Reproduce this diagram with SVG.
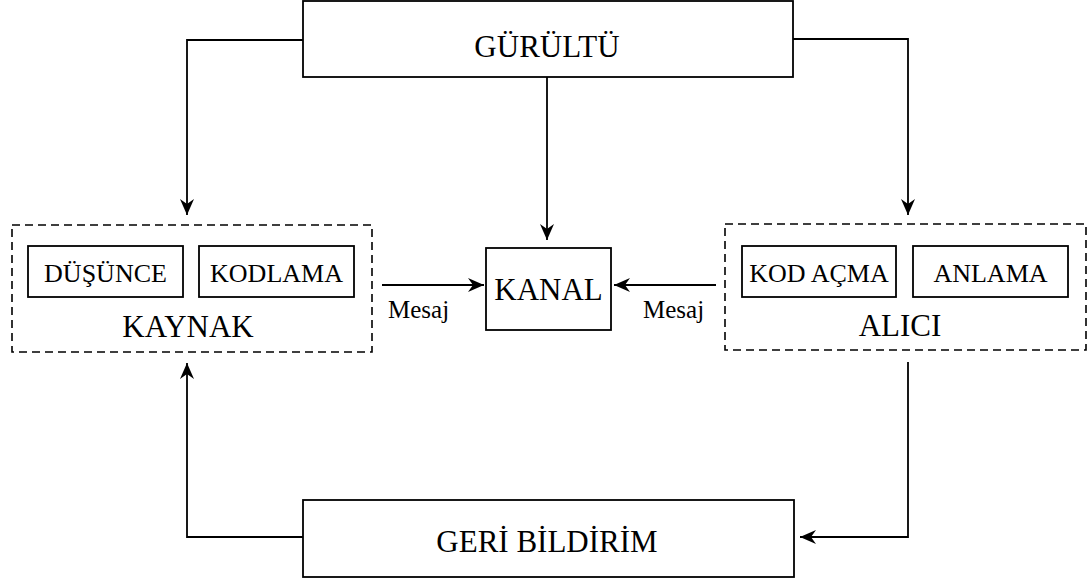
<svg xmlns="http://www.w3.org/2000/svg" width="1088" height="580" viewBox="0 0 1088 580">
<style>
  .box { fill: #fff; stroke: #000; stroke-width: 1.8; }
  .dash { fill: none; stroke: #000; stroke-width: 1.6; stroke-dasharray: 8 5; }
  .ln { fill: none; stroke: #000; stroke-width: 1.8; }
  text { font-family: "Liberation Serif", "Times New Roman", serif; fill: #000; }
  .big { font-size: 31px; text-anchor: middle; }
  .sm { font-size: 26px; text-anchor: middle; }
  .lbl { font-size: 25px; }
</style>
<defs>
  <marker id="arr" viewBox="0 0 16 14" refX="16" refY="7" markerWidth="16" markerHeight="14" markerUnits="userSpaceOnUse" orient="auto">
    <path d="M0,0 L16,7 L0,14 L5,7 Z" fill="#000"/>
  </marker>
</defs>
<rect width="1088" height="580" fill="#fff"/>
<g id="connectors">
  <polyline class="ln" points="303,40 187,40 187,215" marker-end="url(#arr)"/>
  <polyline class="ln" points="793,39 908,39 908,215" marker-end="url(#arr)"/>
  <line class="ln" x1="547" y1="77" x2="547" y2="240" marker-end="url(#arr)"/>
  <line class="ln" x1="382" y1="285" x2="484" y2="285" marker-end="url(#arr)"/>
  <line class="ln" x1="716" y1="285" x2="614" y2="285" marker-end="url(#arr)"/>
  <polyline class="ln" points="908,362 908,537 800,537" marker-end="url(#arr)"/>
  <polyline class="ln" points="303,537 187,537 187,363" marker-end="url(#arr)"/>
  <text class="lbl" x="388" y="318">Mesaj</text>
  <text class="lbl" x="643" y="318">Mesaj</text>
</g>
<g id="gurultu">
  <rect class="box" x="303" y="1" width="490" height="76"/>
  <text class="big" x="547" y="57">GÜRÜLTÜ</text>
</g>
<g id="kaynak">
  <rect class="dash" x="12" y="225" width="360" height="127"/>
  <text class="big" x="188" y="337">KAYNAK</text>
</g>
<g id="dusunce">
  <rect class="box" x="28" y="246" width="155" height="51"/>
  <text class="sm" x="105.5" y="282">DÜŞÜNCE</text>
</g>
<g id="kodlama">
  <rect class="box" x="199" y="246" width="155" height="51"/>
  <text class="sm" x="276.5" y="282">KODLAMA</text>
</g>
<g id="kanal">
  <rect class="box" x="486" y="248" width="125" height="82"/>
  <text class="big" x="548.5" y="300">KANAL</text>
</g>
<g id="alici">
  <rect class="dash" x="725" y="224" width="361" height="126"/>
  <text class="big" x="900" y="336">ALICI</text>
</g>
<g id="kodacma">
  <rect class="box" x="742" y="246" width="154" height="51"/>
  <text class="sm" x="819" y="282">KOD AÇMA</text>
</g>
<g id="anlama">
  <rect class="box" x="913" y="246" width="155" height="51"/>
  <text class="sm" x="990.5" y="282">ANLAMA</text>
</g>
<g id="geribildirim">
  <rect class="box" x="303" y="500" width="491" height="77"/>
  <text class="big" x="547" y="552">GERİ BİLDİRİM</text>
</g>
</svg>
